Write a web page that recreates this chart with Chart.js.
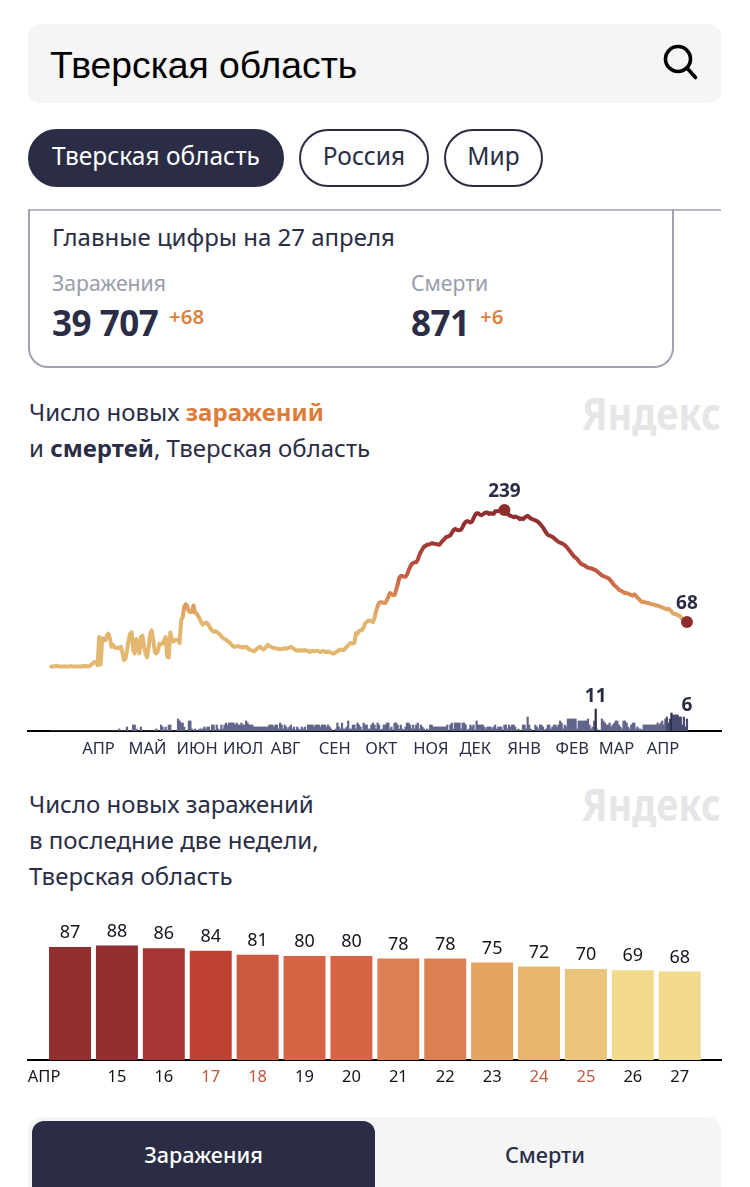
<!DOCTYPE html>
<html lang="ru">
<head>
<meta charset="utf-8">
<title>Тверская область</title>
<script src="https://cdn.jsdelivr.net/npm/chart.js@4"></script>
<style>
  html, body { margin: 0; padding: 0; background: #fff; }
  body { position: relative; width: 750px; height: 1187px; overflow: hidden; font-family: 'Noto Sans', sans-serif; color: #2a2d45; }
  .abs { position: absolute; white-space: nowrap; }
  .search { left: 28px; top: 24px; width: 693px; height: 79px; background: #f5f5f5; border-radius: 12px; }
  .searchText { left: 50px; top: 43px; font: 37.3px/44px 'Liberation Sans', sans-serif; color: #000; }
  .pill { top: 129px; height: 58px; line-height: 50px; box-sizing: border-box; border: 2px solid #2a2d45; border-radius: 29px; text-align: center; font-size: 24.5px; }
  .pill.on { background: #2a2d45; color: #fff; }
  .rule { left: 28px; top: 209px; width: 693px; height: 2px; background: #b4b7c2; }
  .card { left: 28px; top: 209px; width: 646px; height: 159px; box-sizing: border-box; border: 2px solid #9fa2b2; border-top: 0; border-radius: 0 0 20px 20px; }
  .t { font-size: 24px; line-height: 36px; }
  .grey { color: #999cab; font-size: 21.2px; line-height: 30px; }
  .big { font-size: 35px; font-weight: 700; line-height: 44px; letter-spacing: -0.5px; }
  .plus { font-size: 20.5px; font-weight: 600; line-height: 26px; color: #de8040; }
  .orange { color: #de7c3a; font-weight: 700; }
  b { font-weight: 700; }
  .wm { font-size: 44px; font-weight: 700; color: #e6e6e6; line-height: 46px; transform: scaleX(0.86); transform-origin: right center; right: 29px; }
  canvas { position: absolute; left: 0; }
  .tabs { left: 28px; top: 1117px; width: 693px; height: 70px; background: #f5f5f5; border-radius: 14px 14px 0 0; }
  .tab { left: 32px; top: 1121px; width: 343px; height: 66px; background: #2a2d45; border-radius: 12px 12px 0 0; }
  .tabText { top: 1137px; font-size: 21.6px; font-weight: 500; line-height: 36px; text-align: center; }
</style>
</head>
<body>
<div class="abs search"></div>
<div class="abs searchText">Тверская область</div>
<svg class="abs" style="left:660px;top:43px" width="40" height="38" viewBox="0 0 40 38" fill="none" stroke="#000" stroke-width="3.6">
  <circle cx="18" cy="16" r="12.5"/><path d="M27 25 L35.5 34.5" stroke-linecap="round"/>
</svg>
<div class="abs pill on" style="left:28px;width:256px">Тверская область</div>
<div class="abs pill" style="left:299px;width:130px">Россия</div>
<div class="abs pill" style="left:444px;width:99px">Мир</div>
<div class="abs rule"></div>
<div class="abs card"></div>
<div class="abs t" style="left:52px;top:219px">Главные цифры на 27 апреля</div>
<div class="abs grey" style="left:52px;top:268px">Заражения</div>
<div class="abs big" style="left:52px;top:301px">39 707</div>
<div class="abs plus" style="left:169px;top:303px">+68</div>
<div class="abs grey" style="left:411px;top:268px">Смерти</div>
<div class="abs big" style="left:411px;top:301px">871</div>
<div class="abs plus" style="left:480px;top:303px">+6</div>
<div class="abs t" style="left:29px;top:394px">Число новых <span class="orange">заражений</span></div>
<div class="abs t" style="left:29px;top:430px">и <b>смертей</b>, Тверская область</div>
<div class="abs wm" style="top:390px">Яндекс</div>
<canvas id="trendChart" style="top:480px" width="750" height="280"></canvas>
<div class="abs t" style="left:29px;top:786px">Число новых заражений</div>
<div class="abs t" style="left:29px;top:822px">в последние две недели,</div>
<div class="abs t" style="left:29px;top:858px">Тверская область</div>
<div class="abs wm" style="top:781px">Яндекс</div>
<canvas id="lastDaysChart" style="top:910px" width="750" height="180"></canvas>
<div class="abs tabs"></div>
<div class="abs tab"></div>
<div class="abs tabText" style="left:32px;width:343px;color:#fff">Заражения</div>
<div class="abs tabText" style="left:372px;width:346px">Смерти</div>

<script>
// new cases per day, series starts 12 March 2020
const casesMar20 = [0,0,0,1,1,0,0,0,0,0,0,0,0,1,0,0,0,0,0,0]
const casesApr20 = [0,1,0,1,0,1,3,5,7,7,2,45,3,43,42,40,47,50,42,30,33,29,28,29,28,30,22,10,12,24]
const casesMay20 = [40,50,52,25,20,42,30,20,45,47,30,20,14,30,50,55,40,22,20,24,35,34,35,40,45,15,14,52,42,38,40]
const casesJun20 = [41,41,36,71,75,91,95,92,84,83,83,93,82,81,77,73,67,64,66,67,66,62,58,55,53,54,53,51,49,46]
const casesJul20 = [44,42,41,39,37,35,32,30,30,31,31,30,29,30,29,30,28,26,25,24,23,25,27,29,30,28,26,27,30,33,31]
const casesAug20 = [30,29,28,28,27,27,26,27,27,28,27,28,29,30,28,27,25,24,25,24,25,24,25,24,24,22,23,24,23,24,24]
const casesSep20 = [23,22,23,24,22,22,23,22,21,20,20,22,23,25,26,25,25,27,30,32,35,36,35,36,51,50,54,55,56,60]
const casesOct20 = [66,68,70,70,69,68,74,84,92,97,98,98,97,97,101,107,112,110,109,109,117,125,135,138,138,137,137,140,146,152,156]
const casesNov20 = [158,159,159,163,170,175,179,183,184,186,186,187,188,188,187,187,186,186,189,192,194,197,198,199,200,204,208,210,209,208]
const casesDec20 = [208,209,213,218,221,222,221,220,221,226,231,234,234,232,231,232,234,235,235,233,234,233,233,237,237,237,238,239,238,239,237]
const casesJan21 = [233,231,230,229,228,229,228,227,225,226,225,227,229,230,228,226,225,224,223,222,220,218,215,212,208,204,201,200,199,198,196]
const casesFeb21 = [194,192,190,189,188,187,185,183,180,177,174,171,168,166,164,161,158,156,155,154,152,151,150,150,149,148,147,145]
const casesMar21 = [143,141,139,138,137,136,135,133,130,127,124,122,120,117,116,115,113,112,112,111,110,109,108,110,108,105,103,100,98,99,98]
const casesApr21 = [97,97,96,95,95,94,93,93,92,91,90,89,88,87,88,86,84,81,80,80,78,78,75,72,70,69,68]

const deathsMar20 = [0,0,0,0,0,0,0,0,0,0,0,0,0,0,0,0,0,0,0,0]
const deathsApr20 = [0,0,0,0,0,0,0,0,0,0,0,0,0,0,0,0,0,0,0,0,0,0,0,0,1,0,0,0,0,2]
const deathsMay20 = [0,0,0,3,3,1,0,0,2,0,0,0,0,0,0,0,0,0,1,0,0,3,2,0,2,0,3,3,0,0,0]
const deathsJun20 = [0,6,5,4,4,2,0,0,5,5,1,0,1,0,0,1,1,1,2,1,2,2,0,3,3,0,3,1,0,3]
const deathsJul20 = [1,3,4,3,4,4,4,4,3,4,3,3,4,3,3,5,4,3,3,3,2,2,2,2,2,2,2,2,2,2,3]
const deathsAug20 = [3,3,2,3,3,1,4,3,1,3,2,1,2,3,1,2,0,2,1,0,2,1,2,0,3,3,3,3,2,3,3]
const deathsSep20 = [3,2,3,3,3,2,3,2,1,0,0,1,4,2,1,4,1,1,2,5,1,1,3,3,1,4,3,2,0,4]
const deathsOct20 = [3,3,1,1,3,4,3,1,4,3,0,1,3,3,4,4,1,2,0,4,4,3,1,3,1,0,2,4,4,3,1]
const deathsNov20 = [3,1,3,4,1,3,2,1,0,1,0,3,3,2,2,2,2,2,2,2,2,2,3,0,3,4,1,4,4,4]
const deathsDec20 = [4,1,4,4,3,0,1,3,2,3,0,5,3,3,3,3,2,1,2,2,2,1,2,3,1,2,2,2,0,3,3]
const deathsJan21 = [1,3,2,3,3,2,0,1,0,0,3,3,1,7,3,1,0,0,3,2,1,3,3,2,0,1,3,3,1,2,3]
const deathsFeb21 = [3,2,3,5,4,1,3,2,6,6,6,6,6,6,1,5,5,5,5,5,5,6,3,1,2,5,11,1]
const deathsMar21 = [0,0,6,5,4,3,3,4,2,3,4,5,5,3,2,1,5,5,4,2,1,3,4,4,1,2,1,1,0,3,3]
const deathsApr21 = [3,3,3,3,3,3,3,4,3,4,5,3,6,7,4,6,9,8,8,8,8,7,7,3,7,2,6]

// month name ticks, day index of the 1st of each month
const monthNames = ['АПР','МАЙ','ИЮН','ИЮЛ','АВГ','СЕН','ОКТ','НОЯ','ДЕК','ЯНВ','ФЕВ','МАР','АПР']
const monthStarts = [20,50,81,111,142,173,203,234,264,295,326,354,385]

// last two weeks
const lastDays = [14,15,16,17,18,19,20,21,22,23,24,25,26,27]
const lastCases = [87,88,86,84,81,80,80,78,78,75,72,70,69,68]
const weekendDays = [17,18,24,25]
const lastColors = ['#922d30','#922d30','#a63634','#bd4232','#cc5a40','#d76345','#d76345','#dc8053','#dc8053','#e3a461','#e7b56e','#eac47b','#f1da8d','#f1da8d']

const gradientValues = [0,70,100,130,170,210,239]
const gradientColors = ['#e3b871','#e3b56e','#dc9459','#cc6647','#ae4338','#943030','#8e2d2e']

const ink = '#2a2d45'
const cases = [].concat(casesMar20, casesApr20, casesMay20, casesJun20, casesJul20, casesAug20, casesSep20, casesOct20, casesNov20, casesDec20, casesJan21, casesFeb21, casesMar21, casesApr21)
const deaths = [].concat(deathsMar20, deathsApr20, deathsMay20, deathsJun20, deathsJul20, deathsAug20, deathsSep20, deathsOct20, deathsNov20, deathsDec20, deathsJan21, deathsFeb21, deathsMar21, deathsApr21)

const lastIndex = cases.length - 1
const peakIndex = cases.lastIndexOf(Math.max(...cases))
const deathPeakIndex = deaths.indexOf(Math.max(...deaths))
const recentFrom = lastIndex - 13

function valueGradient(context) {
  const { chart } = context
  // scales have no pixels until the first layout
  if (!chart.chartArea) return gradientColors[0]
  const scale = chart.scales.y
  const top = gradientValues[gradientValues.length - 1]
  const g = chart.ctx.createLinearGradient(0, scale.getPixelForValue(0), 0, scale.getPixelForValue(top))
  gradientValues.forEach((v, i) => g.addColorStop(v / top, gradientColors[i]))
  return g
}

function deathColor(context) {
  const i = context.dataIndex
  if (i === deathPeakIndex || i === recentFrom + 3) return ink
  return i >= recentFrom ? '#474a6e' : '#62658a'
}

// numbers over the marks
const valueLabels = {
  id: 'valueLabels',
  afterDatasetsDraw(chart, args, opts) {
    const { ctx, scales } = chart
    ctx.save()
    ctx.textAlign = 'center'
    ctx.textBaseline = 'middle'
    ctx.fillStyle = opts.color || ink
    ctx.font = opts.font
    opts.items.forEach(item => {
      const x = scales.x.getPixelForValue(item.x)
      const y = scales[item.axis].getPixelForValue(item.y)
      ctx.fillText(String(item.y), x, y - item.gap)
    })
    ctx.restore()
  }
}

const hiddenAxis = (min, max) => ({ display: false, min, max })

new Chart(document.getElementById('trendChart'), {
  data: {
    datasets: [
      {
        type: 'line',
        yAxisID: 'y',
        data: cases.map((v, i) => ({ x: i, y: v })),
        borderColor: valueGradient,
        borderWidth: 4,
        borderJoinStyle: 'round',
        borderCapStyle: 'round',
        tension: 0,
        pointRadius: c => (c.dataIndex === peakIndex || c.dataIndex === lastIndex ? 6 : 0),
        pointBackgroundColor: '#8e2d2e',
        pointBorderWidth: 0
      },
      {
        type: 'bar',
        yAxisID: 'y2',
        data: deaths.map((v, i) => ({ x: i, y: v })),
        backgroundColor: deathColor,
        barPercentage: 1,
        categoryPercentage: 1
      }
    ]
  },
  options: {
    responsive: false,
    animation: false,
    events: [],
    layout: { autoPadding: false, padding: { left: 28, right: 29, top: 0, bottom: 0 } },
    plugins: {
      legend: { display: false },
      tooltip: { enabled: false },
      valueLabels: {
        font: '700 19px "Noto Sans"',
        items: [
          { x: peakIndex, y: cases[peakIndex], axis: 'y', gap: 18 },
          { x: lastIndex, y: cases[lastIndex], axis: 'y', gap: 18 },
          { x: deathPeakIndex, y: deaths[deathPeakIndex], axis: 'y2', gap: 12 },
          { x: lastIndex, y: deaths[lastIndex], axis: 'y2', gap: 13 }
        ]
      }
    },
    scales: {
      x: {
        type: 'linear',
        offset: false,
        min: -15,
        max: 433,
        grid: { display: false, drawTicks: false },
        border: { display: true, color: '#000', width: 2 },
        afterBuildTicks: scale => { scale.ticks = monthStarts.map(value => ({ value })) },
        afterFit: scale => { scale.height = 29 },
        ticks: {
          autoSkip: false,
          maxRotation: 0,
          align: 'start',
          padding: 8,
          color: ink,
          font: { family: 'Noto Sans', size: 16.5 },
          callback: value => monthNames[monthStarts.indexOf(value)]
        }
      },
      y: hiddenAxis(-98.5, 284.7),
      y2: hiddenAxis(0, 125.5)
    }
  },
  plugins: [valueLabels]
})

new Chart(document.getElementById('lastDaysChart'), {
  type: 'bar',
  data: {
    datasets: [{
      data: lastDays.map((d, i) => ({ x: d, y: lastCases[i] })),
      backgroundColor: lastColors,
      barPercentage: 0.895,
      categoryPercentage: 1
    }]
  },
  options: {
    responsive: false,
    animation: false,
    events: [],
    layout: { autoPadding: false, padding: { left: 28, right: 29, top: 0, bottom: 0 } },
    plugins: {
      legend: { display: false },
      tooltip: { enabled: false },
      valueLabels: {
        color: '#14151f',
        font: '18px "Noto Sans"',
        items: lastDays.map((d, i) => ({ x: d, y: lastCases[i], axis: 'y', gap: 14 }))
      }
    },
    scales: {
      x: {
        type: 'linear',
        offset: false,
        min: 13.104,
        max: 27.88,
        grid: { display: false, drawTicks: false },
        border: { display: true, color: '#000', width: 2 },
        // the first bar carries the month name instead of its day, shifted to the axis start
        afterBuildTicks: scale => { scale.ticks = [13.447].concat(lastDays.slice(1)).map(value => ({ value })) },
        afterFit: scale => { scale.height = 30 },
        ticks: {
          autoSkip: false,
          maxRotation: 0,
          padding: 7,
          color: c => (weekendDays.includes(c.tick.value) ? '#c4553f' : '#14151f'),
          font: { family: 'Noto Sans', size: 16.5 },
          callback: value => (value < 14 ? 'АПР' : value)
        }
      },
      y: hiddenAxis(0, 115.4)
    }
  },
  plugins: [valueLabels]
})
</script>
</body>
</html>
